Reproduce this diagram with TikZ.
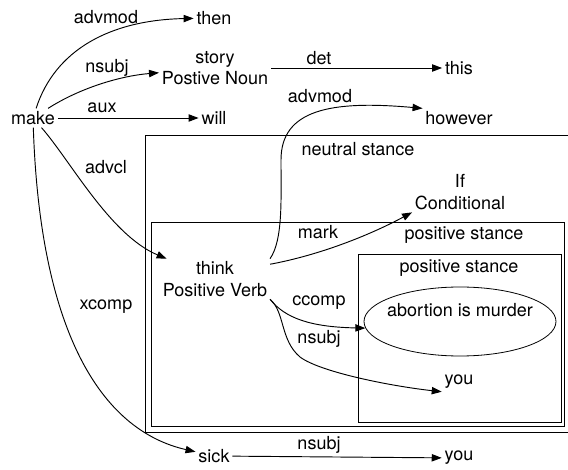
\documentclass[tikz,border=0pt]{standalone}
\usepackage{fontspec}
\setmainfont{TeX Gyre Heros}
\usetikzlibrary{arrows.meta,shapes.geometric}

\begin{document}
\begin{tikzpicture}[x=0.75pt,y=-0.75pt,
  word/.style={font=\fontsize{13.5}{16}\selectfont, align=center, inner sep=2pt},
  deplabel/.style={font=\fontsize{13.5}{16}\selectfont, inner sep=0pt},
  dep/.style={line width=0.7pt, -{Triangle[length=7.5pt,width=5.5pt]}},
  stancebox/.style={draw, line width=0.6pt},
  stanceellipse/.style={draw, ellipse, line width=0.6pt, minimum width=144pt, minimum height=51.75pt, inner sep=0pt}]
  \useasboundingbox (0,0) rectangle (568,470);

  % stance clusters
  \draw[stancebox] (145,135) rectangle (575,432);
  \draw[stancebox] (151,222) rectangle (564,426);
  \draw[stancebox] (358,254) rectangle (561,422);
  \node[word] (neutral) at (358,149) {neutral stance};
  \node[word] (positiveA) at (464,235) {positive stance};
  \node[word] (positiveB) at (459,268) {positive stance};

  % words
  \node[word] (make) at (33,118) {make};
  \node[word] (then) at (214,18) {then};
  \node[word] (story) at (215,68) {story\\Postive Noun};
  \node[word] (this) at (459,68) {this};
  \node[word] (will) at (214,118) {will};
  \node[word] (however) at (459,118) {however};
  \node[word] (cond) at (460,192) {If\\Conditional};
  \node[word] (think) at (215,279) {think\\Positive Verb};
  \node[stanceellipse, label={[word, yshift=8.6pt]center:abortion is murder}] (abortion) at (460,321.5) {};
  \node[word] (you1) at (459,382) {you};
  \node[word] (sick) at (214,456) {sick};
  \node[word] (you2) at (459,458) {you};

  % dependencies
  \draw[dep] (make) .. controls (55,50) and (110,20) .. (then);
  \draw[dep] (make) .. controls (80,88) and (120,76) .. (story);
  \draw[dep] (make) -- (will);
  \draw[dep] (story) -- (this);
  \draw[dep] (make) .. controls (70,160) and (110,235) .. (think);
  \draw[dep] (make) .. controls (40,330) and (100,430) .. (sick);
  \draw[dep] (sick) -- (you2);
  \draw[dep] (think.north east) .. controls (283,240) and (281,200) .. (281,160)
    .. controls (281,110) and (330,100) .. (however.north west);
  \draw[dep] (think.15) .. controls (320,255) and (370,235) .. (cond.south west);
  \draw[dep] (think.south east) .. controls (285,318) and (310,327) .. (abortion.184);
  \draw[dep] (think.south east) .. controls (285,312) and (280,340) .. (300,357)
    .. controls (320,372) and (390,386) .. (you1.south west);

  % dependency labels
  \node[deplabel] (lAdvmodThen) at (106,17) {advmod};
  \node[deplabel] (lNsubjStory) at (107,68) {nsubj};
  \node[deplabel] (lAux) at (102,108) {aux};
  \node[deplabel] (lDet) at (319,58) {det};
  \node[deplabel] (lAdvmodHowever) at (320,96) {advmod};
  \node[deplabel] (lAdvcl) at (106,167) {advcl};
  \node[deplabel] (lXcomp) at (106,307) {xcomp};
  \node[deplabel] (lMark) at (318,232) {mark};
  \node[deplabel] (lCcomp) at (319,303) {ccomp};
  \node[deplabel] (lNsubjYou) at (319,339) {nsubj};
  \node[deplabel] (lNsubjSick) at (319,445) {nsubj};
\end{tikzpicture}
\end{document}
